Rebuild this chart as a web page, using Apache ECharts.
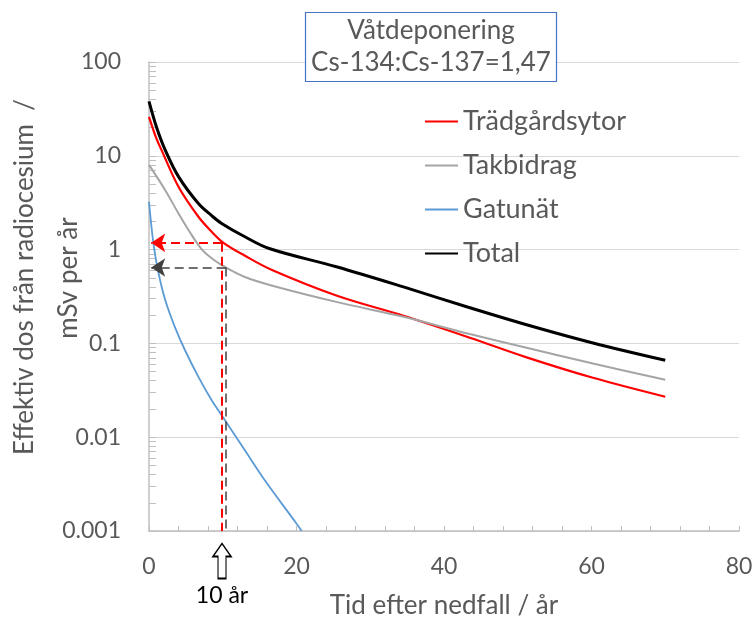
<!DOCTYPE html>
<html>
<head>
<meta charset="utf-8">
<script src="https://cdn.jsdelivr.net/npm/echarts@6/dist/echarts.min.js"></script>
<style>
html,body{margin:0;padding:0;background:#fff;}
#chart{width:755px;height:619px;}
</style>
</head>
<body>
<div id="chart"></div>
<script>
// ---- data ----
var seriesNames = ['Trädgårdsytor', 'Takbidrag', 'Gatunät', 'Total'];

var gardenX = [0, 1.0, 1.7, 4.0, 6.7, 8.5, 10.1, 13.0, 16.6, 25.4, 34.5, 43.5, 51.2, 60.2, 70];
var gardenY = [26, 15.3, 11.5, 4.68, 2.24, 1.55, 1.18, 0.86, 0.61, 0.324, 0.197, 0.115, 0.071, 0.043, 0.027];

var roofX = [0, 2.2, 4.0, 5.5, 7.1, 8.5, 10.4, 13.0, 16.6, 25.4, 34.5, 43.5, 51.2, 60.2, 70];
var roofY = [8.0, 4.3, 2.43, 1.55, 1.02, 0.81, 0.645, 0.51, 0.415, 0.277, 0.192, 0.126, 0.090, 0.061, 0.041];

var streetX = [0, 0.6, 1.3, 2.2, 3.5, 4.9, 6.7, 8.5, 10.3, 13.0, 15.7, 19.8, 20.7];
var streetY = [3.24, 1.16, 0.56, 0.29, 0.15, 0.084, 0.044, 0.0248, 0.0152, 0.00726, 0.00348, 0.00126, 0.001];

var totalX = [0, 1.0, 2.2, 4.0, 6.7, 8.5, 9.85, 13.0, 16.4, 25.4, 34.5, 43.5, 51.2, 60.2, 70];
var totalY = [38, 20.4, 11.5, 6.0, 3.1, 2.3, 1.9, 1.37, 1.02, 0.656, 0.40, 0.24, 0.158, 0.101, 0.066];

// reading guides at 10 years
var guideYear = 10;
var gardenAt10 = 1.18;
var roofAt10 = 0.645;

var xTickLabels = [0, 20, 40, 60, 80];
var xMinorTicks = [0, 4, 8, 12, 16, 20, 24, 28, 32, 36, 40, 44, 48, 52, 56, 60, 64, 68, 72, 76, 80];
var yTickLabels = [0.001, 0.01, 0.1, 1, 10, 100];
var yMinorTicks = [0.002,0.003,0.004,0.005,0.006,0.007,0.008,0.009,
                   0.02,0.03,0.04,0.05,0.06,0.07,0.08,0.09,
                   0.2,0.3,0.4,0.5,0.6,0.7,0.8,0.9,
                   2,3,4,5,6,7,8,9,
                   20,30,40,50,60,70,80,90];

function pairs(xs, ys) { return xs.map(function (x, i) { return [x, ys[i]]; }); }

var FONT = 'Lato';
var TXT = '#595959';

var chart = echarts.init(document.getElementById('chart'));
chart.setOption({
  backgroundColor: '#fff',
  animation: false,
  title: {
    text: 'Våtdeponering\nCs-134:Cs-137=1,47',
    left: 425,
    top: 12,
    textAlign: 'center',
    padding: [3, 6, 3, 6],
    borderColor: '#4472c4',
    borderWidth: 1.2,
    backgroundColor: '#fff',
    textStyle: { fontFamily: FONT, fontSize: 26, fontWeight: 'normal', color: TXT, lineHeight: 32 }
  },
  legend: {
    orient: 'vertical',
    left: 425,
    top: 108,
    padding: 0,
    icon: 'rect',
    itemWidth: 33,
    itemHeight: 2,
    itemGap: 17,
    data: seriesNames,
    textStyle: { fontFamily: FONT, fontSize: 27, color: TXT }
  },
  grid: { left: 149, right: 16, top: 62, bottom: 88, outerBoundsMode: 'none', containLabel: false },
  xAxis: {
    type: 'value',
    min: 0, max: 80, interval: 20,
    name: 'Tid efter nedfall / år',
    nameLocation: 'middle',
    nameGap: 62,
    nameTextStyle: { fontFamily: FONT, fontSize: 26, color: TXT },
    axisLine: { show: true, lineStyle: { color: '#bfbfbf', width: 1.5 } },
    axisTick: { show: true, inside: true, length: 5, customValues: xMinorTicks, lineStyle: { color: '#bfbfbf' } },
    axisLabel: { customValues: xTickLabels, fontFamily: FONT, fontSize: 23, color: TXT, margin: 24 },
    splitLine: { show: false }
  },
  yAxis: [
    {
      type: 'log',
      logBase: 10,
      min: 0.001, max: 100,
      axisLine: { show: true, lineStyle: { color: '#bfbfbf', width: 1.5 } },
      axisTick: { show: true, inside: true, length: 7, customValues: yTickLabels, lineStyle: { color: '#bfbfbf' } },
      axisLabel: {
        customValues: yTickLabels,
        fontFamily: FONT, fontSize: 23, color: TXT, margin: 28,
        formatter: function (v) { return String(Number(Number(v).toPrecision(1))); }
      },
      splitLine: { show: true, lineStyle: { color: '#d9d9d9', width: 1.2 } }
    },
    {
      type: 'log',
      logBase: 10,
      min: 0.001, max: 100,
      position: 'left',
      axisLine: { show: false },
      axisTick: { show: true, inside: true, length: 7, customValues: yMinorTicks, lineStyle: { color: '#bfbfbf' } },
      axisLabel: { show: false },
      splitLine: { show: false }
    }
  ],
  graphic: [
    { type: 'text', x: 25, y: 277, rotation: Math.PI / 2,
      style: { text: 'Effektiv dos från radiocesium  /', font: '26px Lato', fill: TXT, align: 'center', verticalAlign: 'middle' } },
    { type: 'text', x: 69, y: 278, rotation: Math.PI / 2,
      style: { text: 'mSv per år', font: '26px Lato', fill: TXT, align: 'center', verticalAlign: 'middle' } }
  ],
  series: [
    {
      name: seriesNames[0], type: 'line', data: pairs(gardenX, gardenY),
      smooth: 0.35, symbol: 'none', color: '#ff0000',
      lineStyle: { color: '#ff0000', width: 2.2 },
      markLine: {
        silent: true, symbolSize: 14,
        lineStyle: { color: '#ff0000', width: 2, type: [9, 5] },
        label: { show: false },
        data: [
          [{ coord: [guideYear - 0.1, gardenAt10], symbol: 'none' }, { coord: [0.3, gardenAt10], symbol: 'arrow' }],
          [{ coord: [guideYear - 0.1, gardenAt10], symbol: 'none' }, { coord: [guideYear - 0.1, 0.001], symbol: 'none' }]
        ]
      },
      markPoint: {
        silent: true,
        data: [{
          coord: [guideYear - 0.1, 0.001],
          symbol: 'path://M9,0L18,13L13,13L13,35L5,35L5,13L0,13Z',
          symbolSize: [18, 35],
          symbolOffset: [0, 30],
          itemStyle: { color: '#fff', borderColor: '#000', borderWidth: 1.5 },
          label: { show: true, formatter: '10 år', position: 'bottom', distance: 5, color: '#000', fontFamily: FONT, fontSize: 23 }
        }]
      }
    },
    {
      name: seriesNames[1], type: 'line', data: pairs(roofX, roofY),
      smooth: 0.35, symbol: 'none', color: '#a5a5a5',
      lineStyle: { color: '#a5a5a5', width: 2 },
      markLine: {
        silent: true, symbolSize: 14,
        lineStyle: { color: '#404040', width: 1.5, type: [9, 5] },
        label: { show: false },
        data: [
          [{ coord: [guideYear + 0.4, roofAt10], symbol: 'none' }, { coord: [0.3, roofAt10], symbol: 'arrow' }],
          [{ coord: [guideYear + 0.4, roofAt10], symbol: 'none' }, { coord: [guideYear + 0.4, 0.001], symbol: 'none' }]
        ]
      }
    },
    {
      name: seriesNames[2], type: 'line', data: pairs(streetX, streetY),
      smooth: 0.3, symbol: 'none', color: '#5b9bd5',
      lineStyle: { color: '#5b9bd5', width: 1.8 }
    },
    {
      name: seriesNames[3], type: 'line', data: pairs(totalX, totalY),
      smooth: 0.35, symbol: 'none', color: '#000',
      lineStyle: { color: '#000', width: 3 }
    }
  ]
});
</script>
</body>
</html>
